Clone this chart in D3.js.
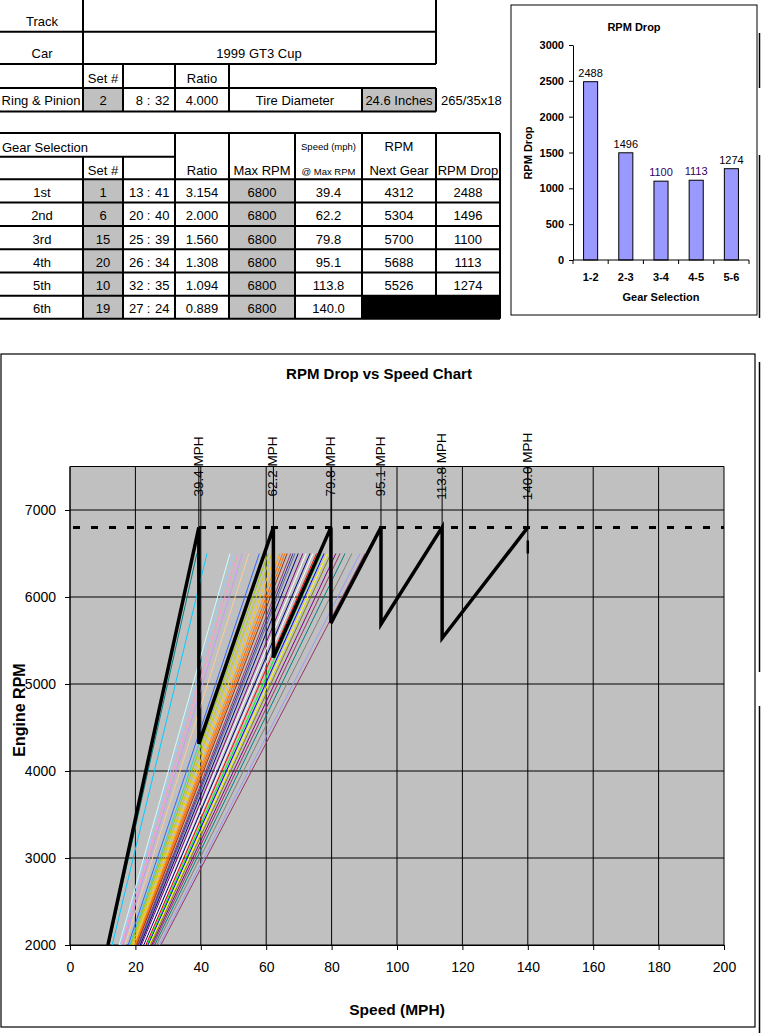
<!DOCTYPE html>
<html>
<head>
<meta charset="utf-8">
<script src="https://cdn.jsdelivr.net/npm/d3@7"></script>
<style>
  body { margin: 0; background: #fff; }
  svg text { font-family: "Liberation Sans", Arial, sans-serif; fill: #000; }
</style>
</head>
<body>
<div id="chart"></div>
<script>
// ---- data ----
let gears = ["1st", "2nd", "3rd", "4th", "5th", "6th"];
let setNums = [1, 6, 15, 20, 10, 19];
let teethA = [13, 20, 25, 26, 32, 27];
let teethB = [41, 40, 39, 34, 35, 24];
let ratios = ["3.154", "2.000", "1.560", "1.308", "1.094", "0.889"];
let maxRpm = [6800, 6800, 6800, 6800, 6800, 6800];
let speeds = [39.4, 62.2, 79.8, 95.1, 113.8, 140.0];
let nextGearRpm = [4312, 5304, 5700, 5688, 5526];
let rpmDrop = [2488, 1496, 1100, 1113, 1274];
let dropLabels = ["1-2", "2-3", "3-4", "4-5", "5-6"];
let startSpeed = 11.6; // 1st gear at 2000 rpm

let speedTicks = [0, 20, 40, 60, 80, 100, 120, 140, 160, 180, 200];
let rpmTicks = [2000, 3000, 4000, 5000, 6000, 7000];
let dropTicks = [0, 500, 1000, 1500, 2000, 2500, 3000];

// every available gear set, drawn 2000 -> 6500 rpm (speed at each end)
let setLow = [11.9, 12.9, 15.0, 15.4, 15.8, 16.2, 16.8, 17.8, 18.3, 18.6, 19.0, 19.4, 19.8, 20.0,
  20.2, 20.4, 20.8, 21.0, 21.2, 21.5, 21.9, 22.2, 22.6, 22.9, 23.2, 23.6, 23.9, 24.2, 24.6,
  25.0, 25.4, 25.9, 26.5, 27.3, 27.8];
let setHigh = [38.8, 41.9, 48.9, 50.0, 51.3, 52.7, 54.7, 57.9, 59.5, 60.6, 61.7, 63.0, 64.2, 65.0,
  65.7, 66.4, 67.5, 68.2, 68.8, 69.8, 71.2, 72.2, 73.4, 74.3, 75.4, 76.8, 77.7, 78.7, 79.8,
  81.3, 82.6, 84.1, 86.2, 88.7, 90.2];
let setColors = ["#008080", "#00CCFF", "#CCFFFF", "#99CCFF", "#FF99CC", "#CC99FF", "#FFCC99", "#3366FF",
  "#33CCCC", "#99CC00", "#CCCC00", "#FFCC00", "#FF9900", "#FF6600", "#FF6600", "#993300", "#993366",
  "#333399", "#666699", "#000080", "#800080", "#FFFFFF", "#000080", "#FFFFFF", "#FF0000", "#00FF00",
  "#0000FF", "#FFFF00", "#808000", "#800080", "#993366", "#008080", "#808080", "#9999FF", "#993366"];

let svg = d3.select("#chart").append("svg").attr("width", 761).attr("height", 1033);
let thick = 2;

// ---- top table ----
let tbl = svg.append("g");
function hline(x1, x2, yy, w) {
  tbl.append("line").attr("x1", x1).attr("x2", x2).attr("y1", yy).attr("y2", yy)
    .attr("stroke", "#000").attr("stroke-width", w || thick);
}
function vline(xx, y1, y2, w) {
  tbl.append("line").attr("x1", xx).attr("x2", xx).attr("y1", y1).attr("y2", y2)
    .attr("stroke", "#000").attr("stroke-width", w || thick);
}
function cell(txt, xx, yy, anchor, size) {
  return tbl.append("text").attr("x", xx).attr("y", yy).attr("text-anchor", anchor || "middle")
    .attr("font-size", size || 13).text(txt);
}
function fillCell(x1, y1, x2, y2, color) {
  tbl.append("rect").attr("x", x1).attr("y", y1).attr("width", x2 - x1).attr("height", y2 - y1)
    .attr("fill", color);
}
let tableRight = 500;

// Track / Car block
fillCell(83, 88, 123, 111.5, "#c0c0c0");
fillCell(362, 88, 436, 111.5, "#c0c0c0");
vline(83, 0, 64); vline(436, 0, 64);
hline(0, 436, 31.7); hline(0, 436, 64); hline(0, 436, 88); hline(0, 436, 111.5);
[83, 123, 175, 229].forEach(v => vline(v, 64, 111.5));
vline(362, 88, 111.5); vline(436, 88, 111.5);
cell("Track", 42, 26);
cell("Car", 42, 58);
cell("1999 GT3 Cup", 259, 58);
cell("Set #", 103, 83);
cell("Ratio", 202, 83);
cell("Ring & Pinion", 41, 105);
cell("2", 103, 105);
cell("8", 143, 105, "end"); cell(":", 148.5, 105); cell("32", 155, 105, "start");
cell("4.000", 202, 105);
cell("Tire Diameter", 295, 105);
cell("24.6 Inches", 399, 105);
cell("265/35x18", 441, 105, "start");

// Gear table
let rowY = [179.3, 202.6, 225.9, 249.2, 272.5, 295.8, 318.8];
for (let i = 0; i < gears.length; i++) {
  fillCell(83, rowY[i], 123, rowY[i + 1], "#c0c0c0");
  fillCell(229, rowY[i], 295, rowY[i + 1], "#c0c0c0");
}
fillCell(362, rowY[5], tableRight, rowY[6], "#000");
hline(0, tableRight, 133); hline(0, 175, 156.7);
rowY.forEach(v => hline(0, tableRight, v));
[175, 229, 295, 362, 436, tableRight].forEach(v => vline(v, 133, 318.8));
[83, 123].forEach(v => vline(v, 156.7, 318.8));
let dropX = (436 + tableRight) / 2;
cell("Gear Selection", 2, 151.5, "start");
cell("Set #", 103, 175);
cell("Ratio", 202, 175);
cell("Max RPM", 262, 175);
cell("Speed (mph)", 328.5, 150, "middle", 9.5);
cell("@ Max RPM", 328.5, 175, "middle", 9.5);
cell("RPM", 399, 151);
cell("Next Gear", 399, 175);
cell("RPM Drop", dropX, 175);
gears.forEach(function (g, i) {
  let by = rowY[i + 1] - 5.5;
  cell(g, 42, by);
  cell(setNums[i], 103, by);
  cell(teethA[i], 143.5, by, "end");
  cell(":", 148.5, by);
  cell(teethB[i], 155, by, "start");
  cell(ratios[i], 202, by);
  cell(maxRpm[i], 262, by);
  cell(speeds[i].toFixed(1), 328.5, by);
  if (i < nextGearRpm.length) {
    cell(nextGearRpm[i], 399, by);
    cell(rpmDrop[i], dropX, by);
  }
});

// ---- RPM drop bar chart ----
let bar = svg.append("g");
bar.append("rect").attr("x", 511).attr("y", 5).attr("width", 246).attr("height", 310)
  .attr("fill", "#fff").attr("stroke", "#000").attr("stroke-width", 1);
let bx = d3.scaleBand().domain(dropLabels).range([573, 749]).paddingInner(0.6).paddingOuter(0.3);
let by = d3.scaleLinear().domain([0, 3000]).range([260, 45]);

bar.append("text").attr("x", 634).attr("y", 31).attr("text-anchor", "middle")
  .attr("font-size", 11).attr("font-weight", "bold").text("RPM Drop");

bar.selectAll("rect.bar").data(rpmDrop).enter().append("rect").attr("class", "bar")
  .attr("x", (d, i) => bx(dropLabels[i]))
  .attr("y", d => by(d))
  .attr("width", bx.bandwidth())
  .attr("height", d => by(0) - by(d))
  .attr("fill", "#9999FF").attr("stroke", "#000").attr("stroke-width", 1);

bar.selectAll("text.val").data(rpmDrop).enter().append("text").attr("class", "val")
  .attr("x", (d, i) => bx(dropLabels[i]) + bx.bandwidth() / 2)
  .attr("y", d => by(d) - 5)
  .attr("text-anchor", "middle").attr("font-size", 11)
  .style("fill", (d, i) => (i === 2 || i === 3) ? "#330066" : "#000")
  .text(d => d);

let byAxis = bar.append("g").attr("transform", "translate(573,0)")
  .call(d3.axisLeft(by).tickValues(dropTicks).tickFormat(d3.format("d"))
    .tickSize(4).tickPadding(5).tickSizeOuter(0));
byAxis.selectAll("text").attr("font-size", 11).attr("font-weight", "bold")
  .attr("font-family", "Liberation Sans, Arial");
byAxis.select(".domain").attr("stroke", "#000");

bar.append("line").attr("x1", 573).attr("x2", 749).attr("y1", 260).attr("y2", 260).attr("stroke", "#000");
for (let i = 0; i <= dropLabels.length; i++) {
  let tx = bx.range()[0] + i * bx.step();
  bar.append("line").attr("x1", tx).attr("x2", tx).attr("y1", 260).attr("y2", 264).attr("stroke", "#000");
}
dropLabels.forEach(function (l) {
  bar.append("text").attr("x", bx(l) + bx.bandwidth() / 2).attr("y", 281)
    .attr("text-anchor", "middle").attr("font-size", 11).attr("font-weight", "bold").text(l);
});
bar.append("text").attr("x", 661).attr("y", 301).attr("text-anchor", "middle")
  .attr("font-size", 11).attr("font-weight", "bold").text("Gear Selection");
bar.append("text").attr("transform", "translate(532,153) rotate(-90)").attr("text-anchor", "middle")
  .attr("font-size", 11).attr("font-weight", "bold").text("RPM Drop");

// sheet cell borders peeking out on the right
[[33, 88], [155, 318], [362, 672], [706, 1033]].forEach(function (s) {
  svg.append("line").attr("x1", 759.5).attr("x2", 759.5).attr("y1", s[0]).attr("y2", s[1])
    .attr("stroke", "#000").attr("stroke-width", 1.5);
});

// ---- RPM drop vs speed chart ----
let main = svg.append("g");
main.append("rect").attr("x", 1).attr("y", 354).attr("width", 754).attr("height", 673)
  .attr("fill", "#fff").attr("stroke", "#000").attr("stroke-width", 1.2);

let x = d3.scaleLinear().domain([0, 200]).range([70, 724]);
let y = d3.scaleLinear().domain([2000, 7500]).range([945, 466.5]);

main.append("rect").attr("x", x(0)).attr("y", y(7500)).attr("width", x(200) - x(0))
  .attr("height", y(2000) - y(7500)).attr("fill", "#c0c0c0");

speedTicks.forEach(function (s) {
  main.append("line").attr("x1", x(s)).attr("x2", x(s)).attr("y1", y(7500)).attr("y2", y(2000))
    .attr("stroke", "#000").attr("stroke-width", 1);
});
rpmTicks.concat([7500]).forEach(function (r) {
  main.append("line").attr("x1", x(0)).attr("x2", x(200)).attr("y1", y(r)).attr("y2", y(r))
    .attr("stroke", "#000").attr("stroke-width", 1);
});

// gear set lines
svg.append("clipPath").attr("id", "plotclip").append("rect")
  .attr("x", x(0)).attr("y", y(7500)).attr("width", x(200) - x(0)).attr("height", y(2000) - y(7500));
let lines = main.append("g").attr("clip-path", "url(#plotclip)");
setHigh.forEach(function (hi, i) {
  lines.append("line")
    .attr("x1", x(setLow[i])).attr("y1", y(2000))
    .attr("x2", x(hi)).attr("y2", y(6500))
    .attr("stroke", setColors[i]).attr("stroke-width", 1);
});

// max rpm line
lines.append("line").attr("x1", x(0)).attr("x2", x(200)).attr("y1", y(6800)).attr("y2", y(6800))
  .attr("stroke", "#000").attr("stroke-width", 3).attr("stroke-dasharray", "7,11")
  .attr("stroke-dashoffset", -3);

// shift markers
speeds.forEach(function (s) {
  lines.append("line").attr("x1", x(s)).attr("x2", x(s)).attr("y1", y(7500)).attr("y2", y(6800))
    .attr("stroke", "#000").attr("stroke-width", 1);
});
lines.append("line").attr("x1", x(speeds[5])).attr("x2", x(speeds[5]))
  .attr("y1", y(6650)).attr("y2", y(6500)).attr("stroke", "#000").attr("stroke-width", 2.5);

// sawtooth shift pattern
let pts = [[startSpeed, 2000]];
speeds.forEach(function (s, i) {
  pts.push([s, maxRpm[i]]);
  if (i < nextGearRpm.length) pts.push([s, nextGearRpm[i]]);
});
lines.append("path").datum(pts)
  .attr("d", d3.line().x(d => x(d[0])).y(d => y(d[1])))
  .attr("fill", "none").attr("stroke", "#000").attr("stroke-width", 3.5)
  .attr("stroke-linejoin", "miter");

// speed labels
speeds.forEach(function (s) {
  main.append("text")
    .attr("transform", "translate(" + (x(s) - 1) + "," + y(7500) + ") rotate(-90)")
    .attr("text-anchor", "middle").attr("dy", "0.36em").attr("font-size", 13.5)
    .text(s.toFixed(1) + " MPH");
});

// axes
let yAxis = main.append("g").attr("transform", "translate(" + x(0) + ",0)")
  .call(d3.axisLeft(y).tickValues(rpmTicks).tickFormat(d3.format("d"))
    .tickSize(5).tickPadding(9).tickSizeOuter(0));
yAxis.select(".domain").attr("d", "M0," + y(7500) + "V" + y(2000)).attr("stroke", "#000");
yAxis.selectAll("text").attr("font-size", 14).attr("font-family", "Liberation Sans, Arial");

let xAxis = main.append("g").attr("transform", "translate(0," + y(2000) + ")")
  .call(d3.axisBottom(x).tickValues(speedTicks).tickFormat(d3.format("d"))
    .tickSize(5).tickPadding(12).tickSizeOuter(0));
xAxis.select(".domain").attr("stroke", "#000");
xAxis.selectAll("text").attr("font-size", 14).attr("font-family", "Liberation Sans, Arial");

main.append("text").attr("x", 379).attr("y", 379).attr("text-anchor", "middle")
  .attr("font-size", 15).attr("font-weight", "bold").text("RPM Drop vs Speed Chart");
main.append("text").attr("x", 397).attr("y", 1015).attr("text-anchor", "middle")
  .attr("font-size", 15.5).attr("font-weight", "bold").text("Speed (MPH)");
main.append("text").attr("transform", "translate(25,710) rotate(-90)").attr("text-anchor", "middle")
  .attr("font-size", 16).attr("font-weight", "bold").text("Engine RPM");
</script>
</body>
</html>
